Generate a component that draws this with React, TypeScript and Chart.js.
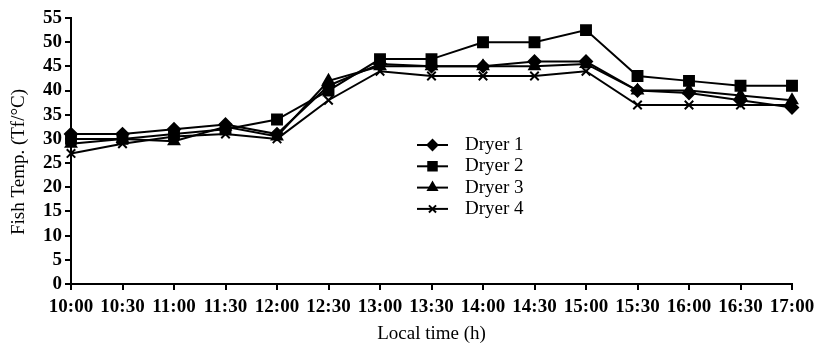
import React, { useEffect, useRef } from 'react';
import { Chart, registerables } from 'chart.js';
import { drawPoint } from 'chart.js/helpers';

Chart.register(...registerables);

const timeLabels = ['10:00', '10:30', '11:00', '11:30', '12:00', '12:30', '13:00', '13:30', '14:00', '14:30', '15:00', '15:30', '16:00', '16:30', '17:00'];
const dryer1 = [31, 31, 32, 33, 31, 41, 45.5, 45, 45, 46, 46, 40, 39.5, 38, 36.5];
const dryer2 = [30, 30, 31, 32, 34, 40, 46.5, 46.5, 50, 50, 52.5, 43, 42, 41, 41];
const dryer3 = [29, 30, 29.5, 32.5, 30.5, 42, 45, 45, 45, 45, 45.5, 40, 40, 39, 38];
const dryer4 = [27, 29, 30.5, 31, 30, 38, 44, 43, 43, 43, 44, 37, 37, 37, 37];
const seriesNames = ['Dryer 1', 'Dryer 2', 'Dryer 3', 'Dryer 4'];
const yTitle = 'Fish Temp. (Tf/°C)';
const xTitle = 'Local time (h)';
const yMin = 0;
const yMax = 55;
const yStep = 5;

const FONT = 'Liberation Serif';

const legendPlugin = {
  id: 'customLegend',
  afterDatasetsDraw(chart: any) {
    const ctx = chart.ctx;
    const x0 = 417, x1 = 448, tx = 465, y0 = 145, dy = 21.3;
    chart.data.datasets.forEach((ds: any, i: number) => {
      const y = y0 + i * dy;
      ctx.save();
      ctx.strokeStyle = '#000';
      ctx.fillStyle = '#000';
      ctx.lineWidth = 2;
      ctx.beginPath();
      ctx.moveTo(x0, y);
      ctx.lineTo(x1, y);
      ctx.stroke();
      drawPoint(ctx, { pointStyle: ds.pointStyle, radius: ds.legendRadius, borderWidth: 2, rotation: 0 } as any, (x0 + x1) / 2, y);
      ctx.font = `19px "${FONT}"`;
      ctx.textBaseline = 'middle';
      ctx.textAlign = 'left';
      ctx.fillText(ds.label, tx, y);
      ctx.restore();
    });
    // y-axis title
    ctx.save();
    ctx.translate(19, 162);
    ctx.rotate(-Math.PI / 2);
    ctx.fillStyle = '#000';
    ctx.font = `19px "${FONT}"`;
    ctx.textAlign = 'center';
    ctx.textBaseline = 'middle';
    ctx.fillText(yTitle, 0, 0);
    ctx.restore();
  },
};

export default function App() {
  const ref = useRef<HTMLCanvasElement | null>(null);
  useEffect(() => {
    if (!ref.current) return;
    const mk = (label: string, data: number[], style: string, r: number, lr: number) => ({
      label,
      data,
      borderColor: '#000',
      backgroundColor: '#000',
      borderWidth: 2,
      pointStyle: style,
      pointRadius: r,
      pointBorderWidth: 2,
      pointBackgroundColor: '#000',
      pointBorderColor: '#000',
      tension: 0,
      legendRadius: lr,
    });
    const chart = new Chart(ref.current, {
      type: 'line',
      data: {
        labels: timeLabels,
        datasets: [
          mk(seriesNames[0], dryer1, 'rectRot', 6, 5),
          mk(seriesNames[1], dryer2, 'rect', 7, 6),
          mk(seriesNames[2], dryer3, 'triangle', 6, 5),
          mk(seriesNames[3], dryer4, 'crossRot', 6, 5),
        ] as any,
      },
      options: {
        animation: false,
        responsive: false,
        layout: { padding: { top: 18, right: 31, left: 0, bottom: 0 } },
        plugins: { legend: { display: false }, tooltip: { enabled: false } },
        scales: {
          x: {
            type: 'category',
            offset: false,
            afterFit: (s: any) => { s.height = 61; },
            grid: { display: true, drawOnChartArea: false, drawTicks: true, tickLength: 6, color: '#000', lineWidth: 2 },
            border: { display: true, color: '#000', width: 2 },
            ticks: { color: '#000', font: { family: FONT, size: 19, weight: 'bold' }, padding: 6, maxRotation: 0, autoSkip: false },
            title: { display: true, text: xTitle, color: '#000', font: { family: FONT, size: 19 }, padding: { top: 0, bottom: 0 } },
          },
          y: {
            min: yMin,
            max: yMax,
            afterFit: (s: any) => { s.width = 71; },
            grid: { display: true, drawOnChartArea: false, drawTicks: true, tickLength: 6, color: '#000', lineWidth: 2 },
            border: { display: true, color: '#000', width: 2 },
            ticks: { stepSize: yStep, autoSkip: false, color: '#000', font: { family: FONT, size: 19, weight: 'bold' }, padding: 3 },
            title: { display: false },
          },
        },
      },
      plugins: [legendPlugin],
    } as any);
    return () => chart.destroy();
  }, []);
  return (
    <div style={{ position: 'fixed', left: 0, top: 0, width: 823, height: 345, background: '#fff' }}>
      <canvas ref={ref} width={823} height={345} />
    </div>
  );
}
